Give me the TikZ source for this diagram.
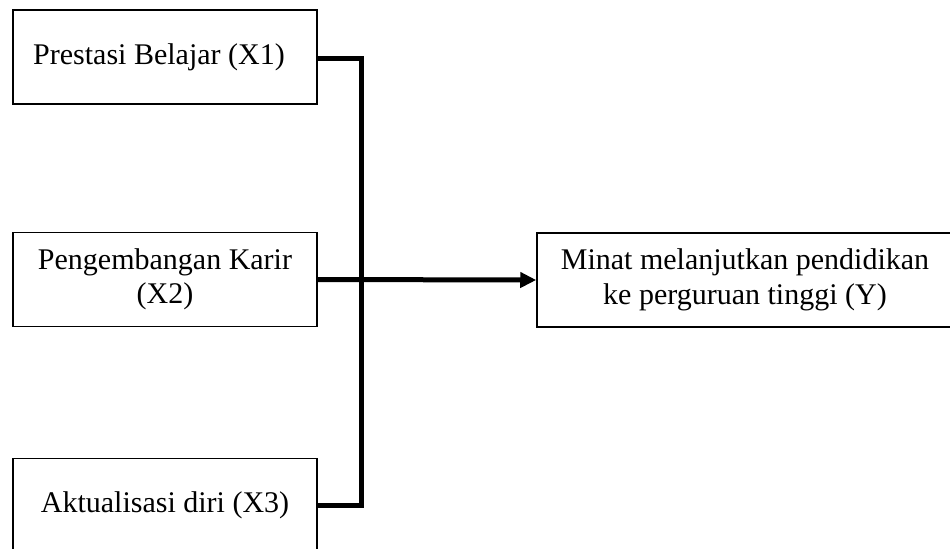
\documentclass[tikz,border=0pt]{standalone}
\usepackage{fontspec}
\setmainfont{Liberation Serif}
\usetikzlibrary{arrows.meta}
\begin{document}
\begin{tikzpicture}[x=0.5pt,y=-0.5pt,
  varbox/.style={draw=black, line width=0.75pt, minimum width=152pt, minimum height=47pt,
    inner sep=0pt, align=center, font=\fontsize{15}{17.2}\selectfont},
  link/.style={line width=2.5pt},
]
\useasboundingbox (0,0) rectangle (950,548);
\clip (0,0) rectangle (950,548);
\fill[white] (0,0) rectangle (950,548);

\node[varbox] (x1) at (165,57) {Prestasi Belajar (X1)\hspace*{6pt}};
\node[varbox] (x2) at (165,279.5) {Pengembangan Karir\\(X2)};
\node[varbox] (x3) at (165,505.5) {Aktualisasi diri (X3)};
\node[varbox, minimum width=208pt] (y) at (745,280) {Minat melanjutkan pendidikan\\ke perguruan tinggi (Y)};

\coordinate (bus) at (361.5,0);
\draw[link] (x1.east) ++(0,1) -| (bus |- x3.east) -- (x3.east);
\draw[link, -{Triangle[length=8pt,width=7.5pt]}] (x2.east) -- (y.west);
\end{tikzpicture}
\end{document}
